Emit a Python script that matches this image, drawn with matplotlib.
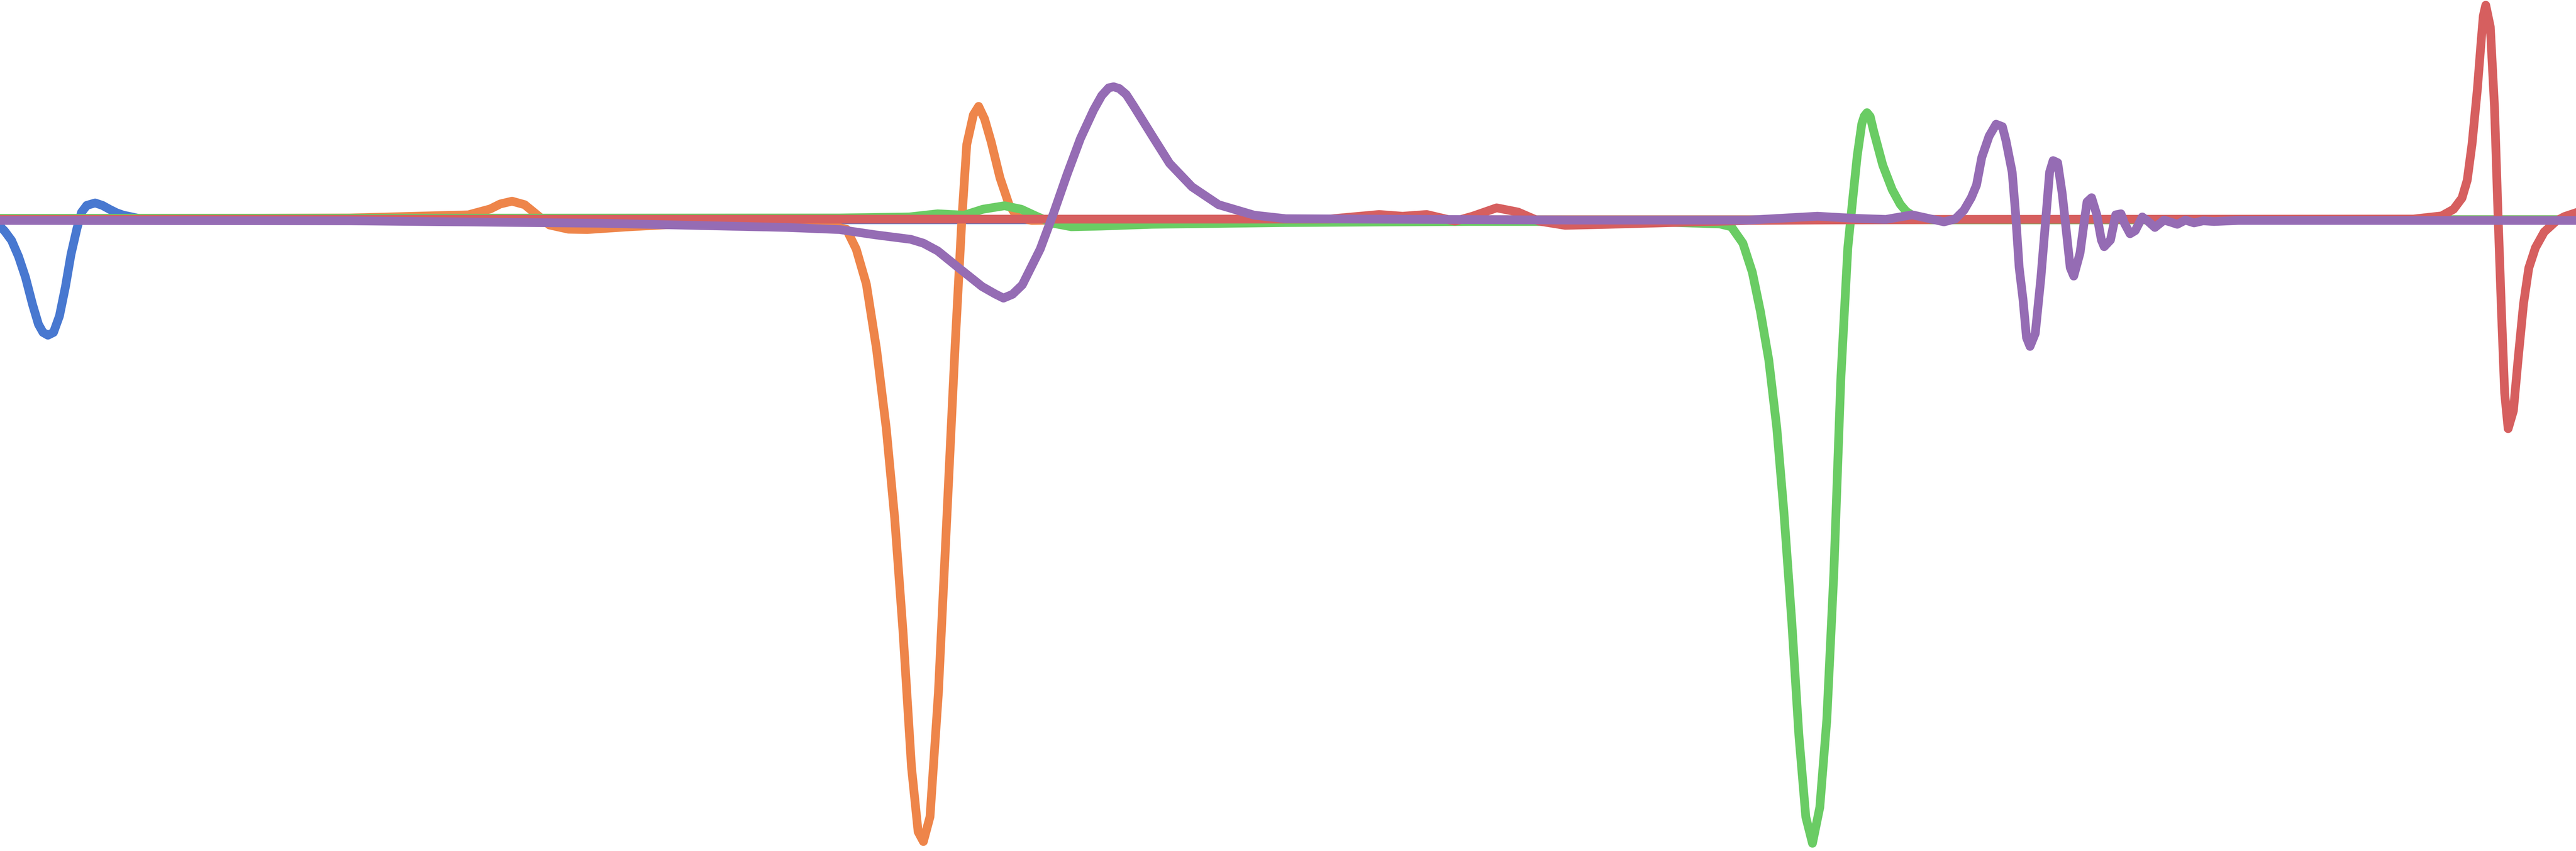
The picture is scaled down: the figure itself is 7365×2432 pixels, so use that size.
#!/usr/bin/env python3
# coding=utf-8
# ----------------------------------------------------------------------------------------------------
# 五条脉冲曲线，无坐标轴，曲线铺满整个画布
# ----------------------------------------------------------------------------------------------------
import matplotlib
matplotlib.use("Agg")
import matplotlib.pyplot as plt
# ----------------------------------------------------------------------------------------------------
# 数据：t 为时间，v 为幅值
blue_t = [0.00, 0.13, 0.33, 0.53, 0.73, 0.93, 1.10, 1.23, 1.37, 1.53, 1.70, 1.87, 2.03,
          2.20, 2.33, 2.48, 2.72, 2.93, 3.13, 3.33, 3.53, 3.77, 4.00, 5.00, 73.65]
blue_v = [-0.22, -0.35, -0.62, -1.08, -1.68, -2.45, -3.02, -3.25, -3.33, -3.25, -2.78, -1.95, -1.02,
          -0.28, 0.18, 0.38, 0.45, 0.38, 0.27, 0.17, 0.10, 0.05, 0.00, -0.03, -0.03]

orange_t = [0.00, 10.00, 13.39, 14.02, 14.30, 14.64, 15.00, 15.27, 15.71, 16.25, 16.79, 18.00,
            19.50, 22.00, 23.53, 24.20, 24.48, 24.77, 25.06, 25.34, 25.58, 25.82, 26.06, 26.25,
            26.40, 26.59, 26.83, 27.07, 27.31, 27.50, 27.64, 27.83, 27.98, 28.15, 28.34, 28.59,
            28.85, 29.10, 29.50, 31.00, 73.65]
orange_v = [0.00, 0.02, 0.11, 0.28, 0.42, 0.50, 0.40, 0.18, -0.18, -0.30, -0.31, -0.23,
            -0.15, -0.12, -0.16, -0.30, -0.87, -1.87, -3.72, -6.00, -8.56, -11.83, -15.67, -17.52,
            -17.80, -17.09, -13.54, -8.56, -3.58, -0.02, 2.12, 2.97, 3.21, 2.85, 2.19, 1.17,
            0.40, 0.03, -0.05, -0.03, -0.03]

green_t = [0.00, 24.00, 26.00, 26.81, 27.57, 28.10, 28.72, 29.20, 29.61, 30.10, 30.63, 31.50,
           32.93, 36.76, 42.00, 47.00, 49.17, 49.50, 49.83, 50.10, 50.33, 50.57, 50.80, 51.00,
           51.23, 51.43, 51.63, 51.82, 52.03, 52.23, 52.43, 52.63, 52.83, 52.97, 53.10, 53.23,
           53.30, 53.38, 53.47, 53.57, 53.83, 54.10, 54.33, 54.50, 54.67, 55.20, 73.65]
green_v = [0.01, 0.02, 0.05, 0.14, 0.10, 0.27, 0.37, 0.27, 0.08, -0.13, -0.23, -0.21,
           -0.16, -0.11, -0.08, -0.08, -0.15, -0.23, -0.70, -1.53, -2.64, -4.03, -5.98, -8.34,
           -11.54, -14.74, -17.10, -17.85, -16.82, -14.32, -10.15, -4.59, -0.84, 0.55, 1.80, 2.71,
           2.93, 3.03, 2.92, 2.50, 1.53, 0.83, 0.41, 0.21, 0.10, -0.03, -0.03]

red_t = [0.00, 38.00, 39.43, 40.10, 40.79, 41.60, 42.10, 42.79, 43.40, 44.00, 44.75, 46.00,
         50.00, 55.00, 69.00, 69.81, 70.15, 70.39, 70.54, 70.68, 70.83, 70.93, 71.00, 71.07,
         71.20, 71.32, 71.42, 71.52, 71.61, 71.71, 71.86, 72.00, 72.15, 72.30, 72.49, 72.74,
         73.08, 73.32, 73.65]
red_v = [-0.02, -0.01, 0.12, 0.07, 0.12, -0.07, 0.07, 0.31, 0.19, -0.07, -0.19, -0.16,
         -0.05, -0.02, -0.01, 0.08, 0.27, 0.59, 1.10, 2.15, 3.70, 4.97, 5.80, 6.10,
         5.48, 3.19, 0.13, -2.68, -4.98, -6.00, -5.49, -3.96, -2.43, -1.41, -0.83, -0.38,
         -0.07, 0.06, 0.17]

purple_t = [0.00, 10.00, 17.14, 22.50, 24.00, 25.02, 26.04, 26.40, 26.81, 27.44, 28.08, 28.45,
            28.69, 28.95, 29.23, 29.74, 30.12, 30.51, 30.89, 31.27, 31.50, 31.70, 31.84, 32.00,
            32.20, 32.42, 32.93, 33.44, 34.08, 34.84, 35.86, 36.76, 45.00, 50.00, 51.96, 53.02,
            53.92, 54.67, 55.58, 55.90, 56.15, 56.36, 56.51, 56.66, 56.87, 57.07, 57.25, 57.35,
            57.53, 57.63, 57.73, 57.84, 57.94, 58.04, 58.19, 58.35, 58.50, 58.60, 58.70, 58.83,
            58.96, 59.06, 59.19, 59.29, 59.47, 59.60, 59.67, 59.80, 59.95, 60.08, 60.16, 60.34,
            60.49, 60.64, 60.74, 60.90, 61.05, 61.25, 61.41, 61.61, 61.87, 62.07, 62.25, 62.48,
            62.73, 62.99, 63.30, 64.00, 73.65]
purple_v = [-0.05, -0.06, -0.13, -0.25, -0.31, -0.46, -0.59, -0.70, -0.92, -1.43, -1.94, -2.15,
            -2.27, -2.16, -1.89, -0.87, 0.15, 1.27, 2.29, 3.11, 3.52, 3.74, 3.77, 3.72,
            3.55, 3.21, 2.39, 1.58, 0.91, 0.40, 0.10, 0.00, -0.04, -0.04, 0.07, 0.01,
            -0.02, 0.11, -0.09, -0.01, 0.24, 0.60, 0.96, 1.75, 2.36, 2.70, 2.63, 2.24,
            1.33, 0.11, -1.40, -2.31, -3.40, -3.65, -3.28, -1.70, 0.11, 1.33, 1.66, 1.60,
            0.72, -0.19, -1.40, -1.64, -0.98, -0.01, 0.48, 0.60, 0.11, -0.61, -0.80, -0.61,
            0.11, 0.14, -0.13, -0.43, -0.34, 0.05, -0.07, -0.25, -0.04, -0.10, -0.16, -0.04,
            -0.12, -0.06, -0.08, -0.05, -0.05]

# seaborn "muted" 调色板
colors = ["#4878d0", "#ee854a", "#6acc64", "#d65f5f", "#956cb4"]
# ----------------------------------------------------------------------------------------------------
fig = plt.figure(figsize=(24.55, 8.1067), dpi=300)
ax = fig.add_axes([0, 0, 1, 1])
series = [(blue_t, blue_v), (orange_t, orange_v), (green_t, green_v),
          (red_t, red_v), (purple_t, purple_v)]
for (t, v), c in zip(series, colors):
    ax.plot(t, v, color=c, linewidth=6)
ax.set_xlim(0, 73.65)
ax.set_ylim(-18.07, 6.25)
ax.axis("off")
fig.savefig("out.png", dpi=300)
